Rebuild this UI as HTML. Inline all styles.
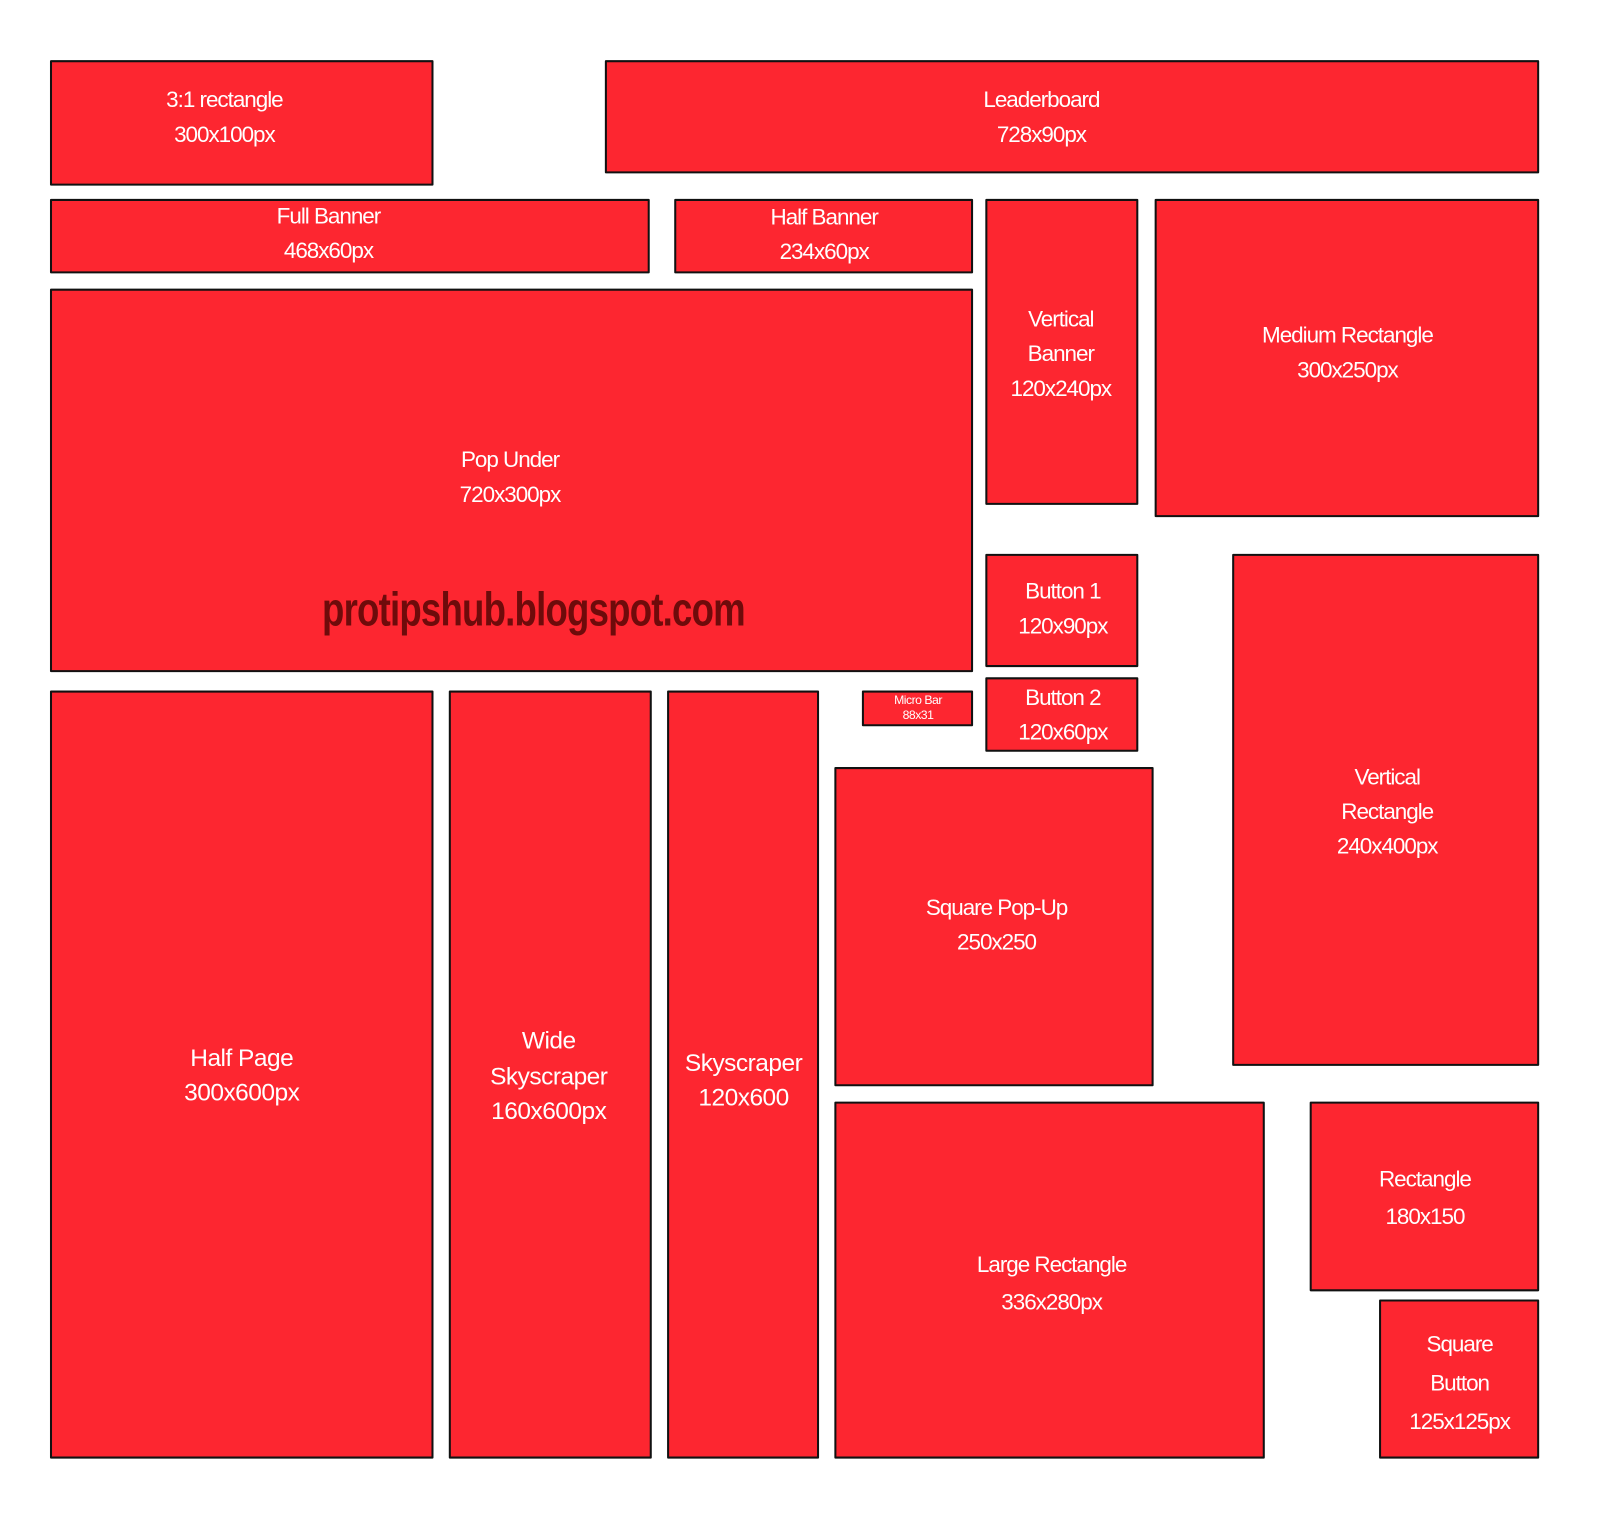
<!DOCTYPE html>
<html><head><meta charset="utf-8"><style>
html,body{margin:0;padding:0;background:#fff;width:1600px;height:1520px;overflow:hidden}
#w{position:absolute;left:0;top:0;width:1570px;height:1490px;transform:scale(1.02);transform-origin:0 0}
.b{position:absolute;background:#fd2630;border:2px solid #111;box-sizing:border-box;border-radius:1px}
.t{position:absolute;color:#fff;font-family:"Liberation Sans",sans-serif;font-size:22px;letter-spacing:-1px;white-space:nowrap;transform:translate(-50%,-50%);line-height:1}
.L{font-size:24px;letter-spacing:-0.5px}
.s{font-size:12px;letter-spacing:-0.5px}
#wm{position:absolute;left:523px;top:597px;transform:translate(-50%,-50%) scaleX(0.78);font-family:"Liberation Sans",sans-serif;font-weight:bold;font-size:46px;color:#6e0b0b;white-space:nowrap;letter-spacing:-1px;line-height:1}
</style></head><body><div id="w">
<div class="b" style="left:49px;top:59px;width:376px;height:123px"></div>
<div class="b" style="left:593px;top:59px;width:916px;height:111px"></div>
<div class="b" style="left:49px;top:195px;width:588px;height:73px"></div>
<div class="b" style="left:661px;top:195px;width:293px;height:73px"></div>
<div class="b" style="left:966px;top:195px;width:150px;height:300px"></div>
<div class="b" style="left:1132px;top:195px;width:377px;height:312px"></div>
<div class="b" style="left:49px;top:283px;width:905px;height:376px"></div>
<div class="b" style="left:966px;top:543px;width:150px;height:111px"></div>
<div class="b" style="left:1208px;top:543px;width:301px;height:502px"></div>
<div class="b" style="left:845px;top:677px;width:109px;height:35px"></div>
<div class="b" style="left:966px;top:664px;width:150px;height:73px"></div>
<div class="b" style="left:49px;top:677px;width:376px;height:753px"></div>
<div class="b" style="left:440px;top:677px;width:199px;height:753px"></div>
<div class="b" style="left:654px;top:677px;width:149px;height:753px"></div>
<div class="b" style="left:818px;top:752px;width:313px;height:313px"></div>
<div class="b" style="left:818px;top:1080px;width:422px;height:350px"></div>
<div class="b" style="left:1284px;top:1080px;width:225px;height:186px"></div>
<div class="b" style="left:1352px;top:1274px;width:157px;height:156px"></div>

<div class="t" style="left:220px;top:98px">3:1 rectangle</div><div class="t" style="left:220px;top:132px">300x100px</div>
<div class="t" style="left:1021px;top:98px">Leaderboard</div><div class="t" style="left:1021px;top:132px">728x90px</div>
<div class="t" style="left:322px;top:212px">Full Banner</div><div class="t" style="left:322px;top:246px">468x60px</div>
<div class="t" style="left:808px;top:213px">Half Banner</div><div class="t" style="left:808px;top:247px">234x60px</div>
<div class="t" style="left:1040px;top:313px">Vertical</div><div class="t" style="left:1040px;top:347px">Banner</div><div class="t" style="left:1040px;top:381px">120x240px</div>
<div class="t" style="left:1321px;top:329px">Medium Rectangle</div><div class="t" style="left:1321px;top:363px">300x250px</div>
<div class="t" style="left:500px;top:451px">Pop Under</div><div class="t" style="left:500px;top:485px">720x300px</div>
<div id="wm">protipshub.blogspot.com</div>
<div class="t" style="left:1042px;top:580px">Button 1</div><div class="t" style="left:1042px;top:614px">120x90px</div>
<div class="t s" style="left:900px;top:686px">Micro Bar</div><div class="t s" style="left:900px;top:701px">88x31</div>
<div class="t" style="left:1042px;top:684px">Button 2</div><div class="t" style="left:1042px;top:718px">120x60px</div>
<div class="t L" style="left:237px;top:1038px">Half Page</div><div class="t L" style="left:237px;top:1072px">300x600px</div>
<div class="t L" style="left:538px;top:1021px">Wide</div><div class="t L" style="left:538px;top:1056px">Skyscraper</div><div class="t L" style="left:538px;top:1090px">160x600px</div>
<div class="t L" style="left:729px;top:1043px">Skyscraper</div><div class="t L" style="left:729px;top:1077px">120x600</div>
<div class="t" style="left:977px;top:890px">Square Pop-Up</div><div class="t" style="left:977px;top:924px">250x250</div>
<div class="t" style="left:1360px;top:762px">Vertical</div><div class="t" style="left:1360px;top:796px">Rectangle</div><div class="t" style="left:1360px;top:830px">240x400px</div>
<div class="t" style="left:1031px;top:1240px">Large Rectangle</div><div class="t" style="left:1031px;top:1277px">336x280px</div>
<div class="t" style="left:1397px;top:1156px">Rectangle</div><div class="t" style="left:1397px;top:1193px">180x150</div>
<div class="t" style="left:1431px;top:1318px">Square</div><div class="t" style="left:1431px;top:1356px">Button</div><div class="t" style="left:1431px;top:1394px">125x125px</div>
</div></body></html>
